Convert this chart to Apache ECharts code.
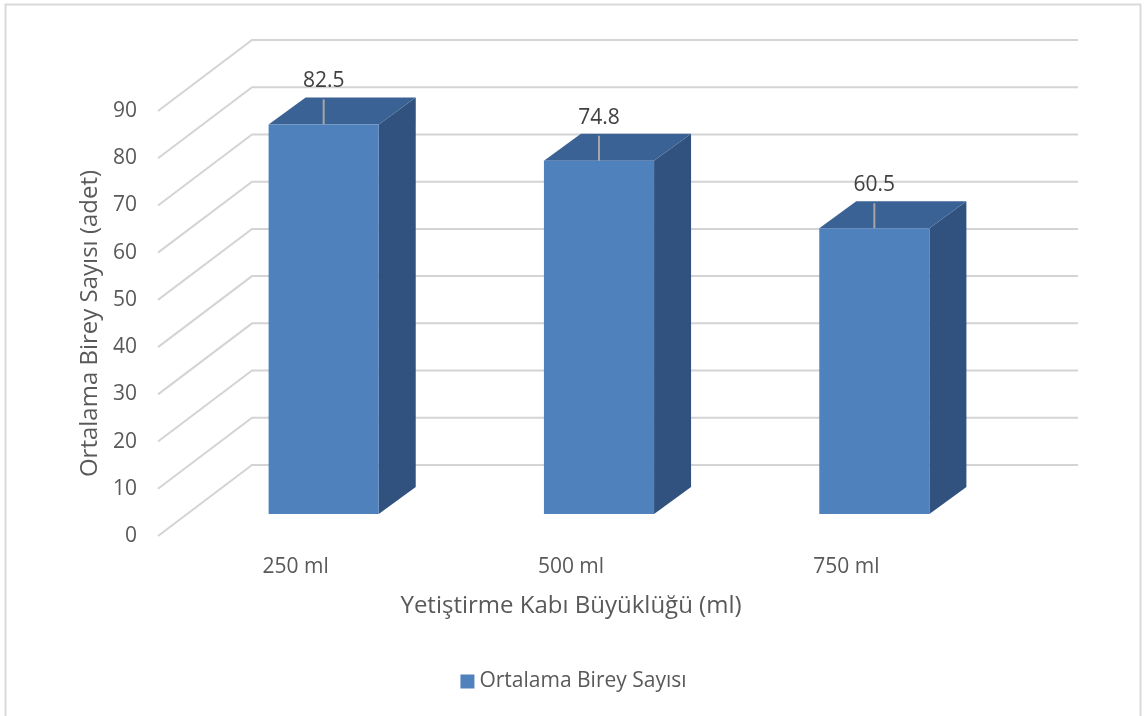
<!DOCTYPE html>
<html>
<head>
<meta charset="utf-8">
<script src="https://cdn.jsdelivr.net/npm/echarts@6/dist/echarts.min.js"></script>
<style>
  html, body { margin: 0; padding: 0; background: #fff; }
  #main { width: 1147px; height: 716px; }
</style>
</head>
<body>
<div id="main"></div>
<script>
// 数据
var categories = ['250 ml', '500 ml', '750 ml'];
var values = [82.5, 74.8, 60.5];
var yTicks = [0, 10, 20, 30, 40, 50, 60, 70, 80, 90];
var seriesName = 'Ortalama Birey Sayısı';

(function() {
    var myChart = echarts.init(document.getElementById('main'));
    var font = '"Open Sans", "Noto Sans", sans-serif';

    // 3D 偏移 (像素)
    var WALL_X = 94, WALL_Y = 71;     // 后墙深度
    var BAR_OX = 28, BAR_OY = 22;     // 柱子前面相对前平面
    var BAR_DX = 37, BAR_DY = 27;     // 柱子厚度

    // 后墙网格线 + 左侧斜线
    function renderWall(params, api) {
        var v = api.value(0);
        var band = api.size([1, 0])[0];
        var left = api.coord([0, v])[0] - band / 2;
        var right = api.coord([categories.length - 1, v])[0] + band / 2;
        var y = api.coord([0, v])[1];
        return {
            type: 'polyline',
            shape: { points: [[left, y], [left + WALL_X, y - WALL_Y], [right + WALL_X, y - WALL_Y]] },
            style: { stroke: '#d4d4d4', lineWidth: 2, fill: null },
            silent: true
        };
    }

    // 3D 柱子
    function renderBar(params, api) {
        var idx = api.value(0);
        var val = api.value(1);
        var band = api.size([1, 0])[0];
        var w = band * 0.4;
        var cx = api.coord([idx, 0])[0] + BAR_OX;
        var x0 = cx - w / 2, x1 = cx + w / 2;
        var yb = api.coord([idx, 0])[1] - BAR_OY;
        var yt = api.coord([idx, val])[1] - BAR_OY;
        return {
            type: 'group',
            children: [
                {   // 侧面
                    type: 'polygon',
                    shape: { points: [[x1, yt], [x1 + BAR_DX, yt - BAR_DY], [x1 + BAR_DX, yb - BAR_DY], [x1, yb]] },
                    style: { fill: '#31527e' }
                },
                {   // 顶面
                    type: 'polygon',
                    shape: { points: [[x0, yt], [x0 + BAR_DX, yt - BAR_DY], [x1 + BAR_DX, yt - BAR_DY], [x1, yt]] },
                    style: { fill: '#3b6294' }
                },
                {   // 正面
                    type: 'rect',
                    shape: { x: x0, y: yt, width: w, height: yb - yt },
                    style: { fill: '#4f81bd' }
                },
                {   // 引导线
                    type: 'line',
                    shape: { x1: cx, y1: yt, x2: cx, y2: yt - 25 },
                    style: { stroke: '#a6a6a6', lineWidth: 2 }
                },
                {
                    type: 'text',
                    x: cx, y: yt - 43,
                    style: {
                        text: String(val),
                        fill: '#404040',
                        font: '21px ' + font,
                        align: 'center',
                        verticalAlign: 'middle'
                    }
                }
            ]
        };
    }

    var barData = values.map(function(v, i) { return [i, v]; });
    var wallData = yTicks.map(function(t) { return [t]; });

    var option = {
        backgroundColor: '#fff',
        animation: false,
        textStyle: { fontFamily: font },
        graphic: [{
            type: 'rect',
            shape: { x: 5.5, y: 4.5, width: 1135, height: 720 },
            style: { fill: null, stroke: '#d9d9d9', lineWidth: 2 },
            silent: true
        }],
        grid: {
            left: 158,
            right: 163,
            top: 111,
            bottom: 180
        },
        legend: {
            data: [{ name: seriesName, icon: 'rect' }],
            left: 'center',
            top: 666,
            itemWidth: 14,
            itemHeight: 14,
            itemGap: 5,
            textStyle: { color: '#595959', fontSize: 21, fontFamily: font }
        },
        xAxis: {
            type: 'category',
            data: categories,
            name: 'Yetiştirme Kabı Büyüklüğü (ml)',
            nameLocation: 'middle',
            nameGap: 58,
            nameTextStyle: { color: '#595959', fontSize: 24, fontFamily: font },
            axisLine: { show: false },
            axisTick: { show: false },
            axisLabel: { color: '#595959', fontSize: 21, margin: 21, fontFamily: font },
            splitLine: { show: false }
        },
        yAxis: {
            type: 'value',
            min: 0,
            max: 90,
            interval: 10,
            name: 'Ortalama Birey Sayısı (adet)',
            nameLocation: 'middle',
            nameGap: 55,
            nameTextStyle: { color: '#595959', fontSize: 24, fontFamily: font },
            axisLine: { show: false },
            axisTick: { show: false },
            axisLabel: { color: '#595959', fontSize: 21, margin: 21, fontFamily: font },
            splitLine: { show: false }
        },
        series: [
            {
                type: 'custom',
                name: 'wall',
                renderItem: renderWall,
                data: wallData,
                encode: { y: 0 },
                silent: true,
                z: 1
            },
            {
                type: 'custom',
                name: seriesName,
                renderItem: renderBar,
                data: barData,
                encode: { x: 0, y: 1 },
                itemStyle: { color: '#4f81bd' },
                z: 2
            }
        ]
    };
    myChart.setOption(option);
})();
</script>
</body>
</html>
